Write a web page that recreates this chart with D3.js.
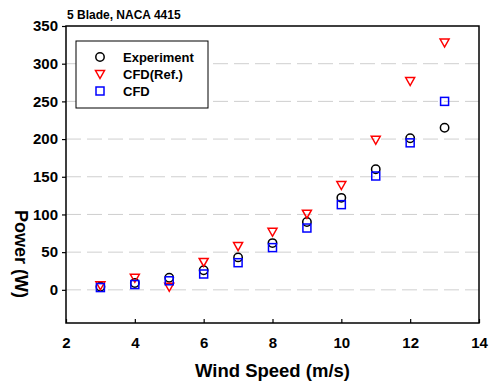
<!DOCTYPE html>
<html>
<head>
<meta charset="utf-8">
<script src="https://cdn.jsdelivr.net/npm/d3@7"></script>
<style>
  body { margin: 0; background: #fff; }
  text { font-family: "Liberation Sans", Arial, sans-serif; font-weight: bold; fill: #000; }
</style>
</head>
<body>
<div id="chart"></div>
<script>
// wind speed (m/s)
const windSpeed = [3, 4, 5, 6, 7, 8, 9, 10, 11, 12, 13];
// power (W)
const experiment = [4, 9, 16, 26, 43, 62, 90, 122, 160, 201, 215];
const cfdRef = [6, 16, 4, 37, 58, 77, 101, 139, 199, 277, 328];
const cfd = [3, 7, 12, 21, 36, 56, 82, 113, 151, 195, 250];
const xTicks = [2, 4, 6, 8, 10, 12, 14];
const yTicks = [0, 50, 100, 150, 200, 250, 300, 350];
const title = '5 Blade, NACA 4415';

const width = 497, height = 384;
const margin = { top: 26, right: 18, bottom: 61, left: 66 };
const w = width - margin.left - margin.right;
const h = height - margin.top - margin.bottom;

const svg = d3.select('#chart').append('svg')
  .attr('width', width)
  .attr('height', height);

const x = d3.scaleLinear().domain([2, 14]).range([0, w]);
const y = d3.scaleLinear().domain([-44, 350]).range([h, 0]);

const g = svg.append('g')
  .attr('transform', `translate(${margin.left},${margin.top})`);

// dashed grid lines
g.append('g')
  .selectAll('line')
  .data(yTicks.filter(d => d < 350))
  .join('line')
  .attr('x1', 0).attr('x2', w)
  .attr('y1', d => y(d)).attr('y2', d => y(d))
  .attr('stroke', '#cfcfcf')
  .attr('stroke-width', 1)
  .attr('stroke-dasharray', '15,6');

// frame
g.append('rect')
  .attr('width', w).attr('height', h)
  .attr('fill', 'none')
  .attr('stroke', '#000')
  .attr('stroke-width', 1.5);

const xAxis = g.append('g')
  .attr('transform', `translate(0,${h})`)
  .call(d3.axisBottom(x).tickValues(xTicks).tickSizeInner(-4).tickSizeOuter(0).tickPadding(14));
const yAxis = g.append('g')
  .call(d3.axisLeft(y).tickValues(yTicks).tickSizeInner(4).tickSizeOuter(0).tickPadding(4));

[xAxis, yAxis].forEach(ax => {
  ax.select('.domain').remove();
  ax.selectAll('.tick line').attr('stroke', '#000').attr('stroke-width', 1.2);
  ax.selectAll('.tick text')
    .style('font-family', '"Liberation Sans", Arial, sans-serif')
    .style('font-weight', 'bold')
    .style('font-size', '15px')
    .attr('fill', '#000');
});

// markers
const sym = {
  circle: (sel) => sel.append('circle').attr('r', 4.2),
  tri: (sel) => sel.append('path').attr('d', 'M-4.5,-3.5L4.5,-3.5L0,4.5Z'),
  square: (sel) => sel.append('rect').attr('x', -4).attr('y', -4).attr('width', 8).attr('height', 8)
};

const series = [
  { name: 'Experiment', values: experiment, color: '#000', shape: 'circle' },
  { name: 'CFD(Ref.)', values: cfdRef, color: '#f00', shape: 'tri' },
  { name: 'CFD', values: cfd, color: '#00f', shape: 'square' }
];

series.forEach(s => {
  g.append('g')
    .selectAll('g')
    .data(windSpeed.map((ws, i) => [ws, s.values[i]]))
    .join('g')
    .attr('transform', d => `translate(${x(d[0])},${y(d[1])})`)
    .each(function() {
      sym[s.shape](d3.select(this))
        .attr('fill', 'none')
        .attr('stroke', s.color)
        .attr('stroke-width', 1.5);
    });
});

// legend
const legend = svg.append('g').attr('transform', 'translate(76,41)');
legend.append('rect')
  .attr('width', 132).attr('height', 67)
  .attr('fill', '#fff')
  .attr('stroke', '#000')
  .attr('stroke-width', 1);
series.forEach((s, i) => {
  const row = legend.append('g').attr('transform', `translate(24,${16 + i * 17})`);
  sym[s.shape](row).attr('fill', 'none').attr('stroke', s.color).attr('stroke-width', 1.5);
  row.append('text')
    .attr('x', 23).attr('y', 5)
    .style('font-size', '13px')
    .text(s.name);
});

// title and axis labels
svg.append('text')
  .attr('x', 67).attr('y', 19)
  .style('font-size', '12px')
  .text(title);

svg.append('text')
  .attr('x', margin.left + w / 2).attr('y', 377)
  .attr('text-anchor', 'middle')
  .style('font-size', '18.5px')
  .text('Wind Speed (m/s)');

svg.append('text')
  .attr('transform', 'translate(15,254) rotate(90)')
  .attr('text-anchor', 'middle')
  .style('font-size', '18px')
  .text('Power (W)');
</script>
</body>
</html>
